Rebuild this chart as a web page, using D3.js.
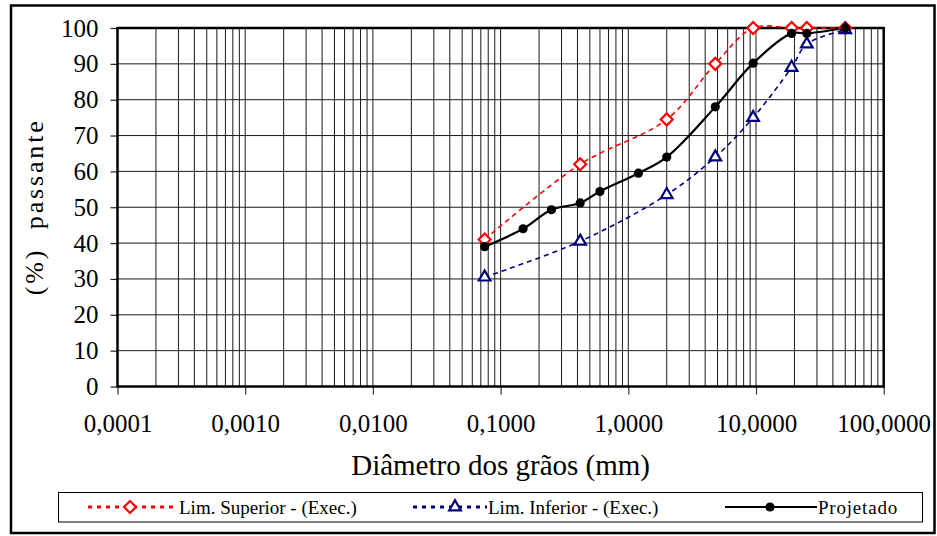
<!DOCTYPE html>
<html>
<head>
<meta charset="utf-8">
<script src="https://cdn.jsdelivr.net/npm/d3@7/dist/d3.min.js"></script>
<style>
  html, body { margin: 0; padding: 0; background: #fff; }
  svg { display: block; }
  text { font-family: "Liberation Serif", "Times New Roman", serif; fill: #000; }
</style>
</head>
<body>
<svg id="chart" width="937" height="536"></svg>
<script>
// Sieve openings (mm) shared by the specification limits
const sieves = [0.075, 0.42, 2.0, 4.8, 9.5, 19, 25, 50];
// Upper and lower limits of the execution band (% passing)
const limSuperior = [41, 62, 74.5, 90, 100, 100, 100, 100];
const limInferior = [30.5, 40.5, 53.5, 64, 75, 89, 95.5, 99.5];
// Designed grading curve
const projSieves = [0.075, 0.15, 0.25, 0.42, 0.6, 1.2, 2.0, 4.8, 9.5, 19, 25, 50];
const projetado = [39, 44, 49.3, 51.2, 54.4, 59.5, 64, 78, 90.2, 98.5, 98.5, 100];

// Axis ticks
const xTickValues = [0.0001, 0.001, 0.01, 0.1, 1, 10, 100];
const xTickLabels = ["0,0001", "0,0010", "0,0100", "0,1000", "1,0000", "10,0000", "100,0000"];
const yTickValues = [0, 10, 20, 30, 40, 50, 60, 70, 80, 90, 100];

const seriesNames = ["Lim. Superior - (Exec.)", "Lim. Inferior - (Exec.)", "Projetado"];

const svg = d3.select("#chart");
const plot = { left: 117.5, right: 883.7, top: 28, bottom: 386.5 };

const x = d3.scaleLog().domain([0.0001, 100]).range([plot.left, plot.right]);
const y = d3.scaleLinear().domain([0, 100]).range([plot.bottom, plot.top]);

// Outer chart frame
svg.append("rect")
  .attr("x", 11).attr("y", 5.5)
  .attr("width", 923.5).attr("height", 527.5)
  .attr("fill", "#fff").attr("stroke", "#000").attr("stroke-width", 2.5);

// Grid: every 1..9 within each decade, every 10 % on the y axis
const gridX = [];
for (let e = -4; e < 2; e++) {
  for (let m = 1; m <= 9; m++) gridX.push(m * Math.pow(10, e));
}
gridX.push(100);

const grid = svg.append("g").attr("stroke", "#1a1a1a").attr("stroke-width", 1);
grid.selectAll("line.vx").data(gridX).join("line")
  .attr("class", "vx")
  .attr("x1", d => x(d)).attr("x2", d => x(d))
  .attr("y1", plot.top).attr("y2", plot.bottom);
grid.selectAll("line.hy").data(yTickValues).join("line")
  .attr("class", "hy")
  .attr("x1", plot.left).attr("x2", plot.right)
  .attr("y1", d => y(d)).attr("y2", d => y(d));

// Axes
const xAxis = d3.axisBottom(x)
  .tickValues(xTickValues)
  .tickFormat((d, i) => xTickLabels[i])
  .tickSizeInner(8).tickSizeOuter(0).tickPadding(20);
const gx = svg.append("g").attr("transform", `translate(0,${plot.bottom})`).call(xAxis);
gx.select(".domain").remove();
gx.selectAll("line").attr("stroke", "#333").attr("stroke-width", 1.2);
gx.selectAll("text").attr("font-size", 25).attr("fill", "#000");

const yAxis = d3.axisLeft(y)
  .tickValues(yTickValues)
  .tickSizeInner(7).tickSizeOuter(0).tickPadding(12);
const gy = svg.append("g").attr("transform", `translate(${plot.left},0)`).call(yAxis);
gy.select(".domain").remove();
gy.selectAll("line").attr("stroke", "#222").attr("stroke-width", 1.2);
gy.selectAll("text").attr("font-size", 25).attr("fill", "#000");

// Plot area frame
svg.append("rect")
  .attr("x", plot.left).attr("y", plot.top)
  .attr("width", plot.right - plot.left).attr("height", plot.bottom - plot.top)
  .attr("fill", "none").attr("stroke", "#000").attr("stroke-width", 2.5);

// Axis titles
svg.append("text")
  .attr("x", (plot.left + plot.right) / 2).attr("y", 475)
  .attr("text-anchor", "middle").attr("font-size", 29)
  .text("Diâmetro dos grãos (mm)");

svg.append("text")
  .attr("transform", `translate(43,${(plot.top + plot.bottom) / 2 + 1}) rotate(-90)`)
  .attr("text-anchor", "middle").attr("font-size", 26)
  .attr("textLength", 174).attr("lengthAdjust", "spacing")
  .style("white-space", "pre")
  .text("(%)  passante");

// Series
const line = d3.line()
  .x(d => x(d[0])).y(d => y(d[1]))
  .curve(d3.curveCatmullRom.alpha(0.5));

const diamond = d3.symbol().type(d3.symbolSquare).size(72);
const triangle = d3.symbol().type(d3.symbolTriangle).size(58);

const series = [
  { name: seriesNames[0], color: "#ff0000", dash: "5,4", width: 1.6,
    pts: sieves.map((s, i) => [s, limSuperior[i]]), marker: "diamond" },
  { name: seriesNames[1], color: "#000080", dash: "5,4", width: 1.6,
    pts: sieves.map((s, i) => [s, limInferior[i]]), marker: "triangle" },
  { name: seriesNames[2], color: "#000", dash: null, width: 2.2,
    pts: projSieves.map((s, i) => [s, projetado[i]]), marker: "dot" }
];

function drawMarker(g, type, color) {
  if (type === "diamond") {
    g.append("path").attr("d", diamond()).attr("transform", "rotate(45)")
      .attr("fill", "#fff").attr("stroke", color).attr("stroke-width", 2.2);
  } else if (type === "triangle") {
    g.append("path").attr("d", triangle())
      .attr("fill", "#fff").attr("stroke", color).attr("stroke-width", 2.2);
  } else {
    g.append("circle").attr("r", 4.6).attr("fill", color);
  }
}

series.forEach(s => {
  svg.append("path").datum(s.pts)
    .attr("d", line)
    .attr("fill", "none").attr("stroke", s.color)
    .attr("stroke-width", s.width)
    .attr("stroke-dasharray", s.dash);
});
series.forEach(s => {
  s.pts.forEach(p => {
    const g = svg.append("g").attr("transform", `translate(${x(p[0])},${y(p[1])})`);
    drawMarker(g, s.marker, s.color);
  });
});

// Legend
svg.append("rect")
  .attr("x", 58.5).attr("y", 492.5).attr("width", 864).attr("height", 29.5)
  .attr("fill", "#fff").attr("stroke", "#000").attr("stroke-width", 1);

const legendLayout = [
  { x0: 88, x1: 176, mx: 130, tx: 179 },
  { x0: 413, x1: 487, mx: 455, tx: 488 },
  { x0: 725, x1: 817, mx: 770, tx: 818 }
];
const ly = 507;
series.forEach((s, i) => {
  const L = legendLayout[i];
  const g = svg.append("g");
  g.append("line")
    .attr("x1", L.x0).attr("x2", L.x1).attr("y1", ly).attr("y2", ly)
    .attr("stroke", s.color)
    .attr("stroke-width", s.dash ? 3 : 2)
    .attr("stroke-dasharray", s.dash ? "4,5" : null);
  const m = g.append("g").attr("transform", `translate(${L.mx},${ly})`);
  drawMarker(m, s.marker, s.color);
  g.append("text")
    .attr("x", L.tx).attr("y", ly + 6.5)
    .attr("font-size", 19)
    .attr("letter-spacing", i === 2 ? 0.8 : 0)
    .text(s.name);
});
</script>
</body>
</html>
